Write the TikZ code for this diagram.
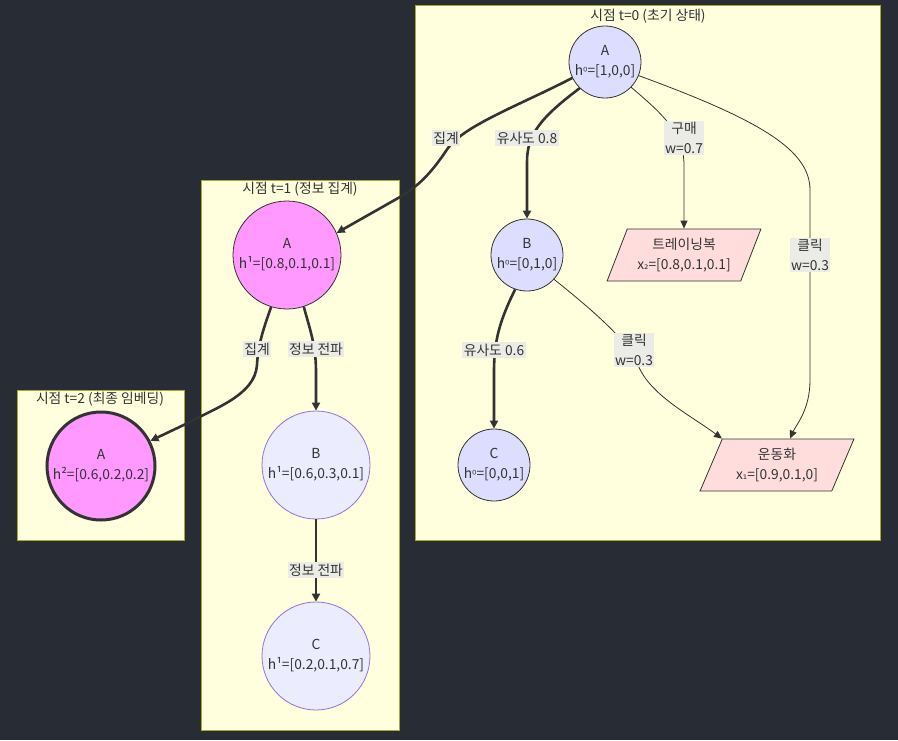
\documentclass[tikz,border=0pt]{standalone}
\usepackage{fontspec}
\setmainfont{Noto Sans CJK KR}
\newfontfamily\scriptf{DejaVu Sans}
\newcommand{\supz}{{\scriptf\fontsize{11}{15}\selectfont ⁰}}
\newcommand{\subone}{{\scriptf\fontsize{11}{15}\selectfont ₁}}
\newcommand{\subtwo}{{\scriptf\fontsize{11}{15}\selectfont ₂}}
\usetikzlibrary{shapes.geometric,arrows.meta}
\definecolor{bgc}{RGB}{40,44,52}
\definecolor{clfill}{HTML}{FFFFDE}
\definecolor{clline}{HTML}{AAAA33}
\definecolor{nzero}{HTML}{DDDDFF}
\definecolor{npink}{HTML}{FF99FF}
\definecolor{nlav}{HTML}{ECECFF}
\definecolor{nlavline}{HTML}{9370DB}
\definecolor{prod}{HTML}{FFDDDD}
\definecolor{ink}{HTML}{333333}
\definecolor{lblbg}{RGB}{236,236,230}
\tikzset{
  every node/.style={font=\fontsize{13.8}{20}\selectfont, text=ink},
  cluster/.style={draw=clline, fill=clfill, line width=0.8pt},
  ctitle/.style={inner sep=1pt},
  zero/.style={circle, draw=ink, fill=nzero, line width=0.8pt, minimum size=72pt, inner sep=0pt, align=center},
  pinkbig/.style={circle, draw=ink, fill=npink, line width=0.8pt, minimum size=108pt, inner sep=0pt, align=center},
  lavbig/.style={circle, draw=nlavline, fill=nlav, line width=0.8pt, minimum size=108pt, inner sep=0pt, align=center},
  finalnode/.style={circle, draw=ink, fill=npink, line width=3pt, minimum size=108pt, inner sep=0pt, align=center},
  product/.style={trapezium, trapezium left angle=64, trapezium right angle=116, trapezium stretches=true, draw=ink, fill=prod, line width=0.8pt, minimum height=52pt, minimum width=154pt, align=center, inner sep=0pt},
  thick edge/.style={draw=ink, line width=2.6pt, -{Triangle[length=8pt,width=8pt]}},
  thin edge/.style={draw=ink, line width=0.8pt, -{Triangle[length=8pt,width=7pt]}},
  elabel/.style={fill=lblbg, inner sep=1.5pt, align=center}
}
\begin{document}
\begin{tikzpicture}[x=1pt,y=-1pt]
\fill[bgc] (0,0) rectangle (898,740);
\useasboundingbox (0,0) rectangle (898,740);
% clusters
\draw[cluster] (415,5) rectangle (880,540);
\node[ctitle] (t0) at (648,16) {시점 t=0 (초기 상태)};
\draw[cluster] (201,180) rectangle (399,730);
\node[ctitle] (t1) at (300,189) {시점 t=1 (정보 집계)};
\draw[cluster] (17,390) rectangle (184,540);
\node[ctitle] (t2) at (100,399) {시점 t=2 (최종 임베딩)};
% nodes
\node[zero] (A0) at (605,62) {A\\h\supz=[1,0,0]};
\node[zero] (B0) at (527,255) {B\\h\supz=[0,1,0]};
\node[zero] (C0) at (494,465) {C\\h\supz=[0,0,1]};
\node[product] (tw) at (684,255) {트레이닝복\\x\subtwo=[0.8,0.1,0.1]};
\node[product] (sn) at (777,465) {운동화\\x\subone=[0.9,0.1,0]};
\node[pinkbig] (A1) at (287,255) {A\\h¹=[0.8,0.1,0.1]};
\node[lavbig] (B1) at (316,465) {B\\h¹=[0.6,0.3,0.1]};
\node[lavbig] (C1) at (316,656) {C\\h¹=[0.2,0.1,0.7]};
\node[finalnode] (A2) at (101,466) {A\\h²=[0.6,0.2,0.2]};
% edges
\draw[thick edge] (A0.206) .. controls (520,105) and (465,125) .. (448,148) .. controls (432,172) and (420,185) .. (400,197) -- (A1.24);
\node[elabel] (l1) at (446,138) {집계};
\draw[thick edge] (A0.226) .. controls (540,118) and (527,135) .. (527,162) -- (B0.north);
\node[elabel] (l2) at (527,138) {유사도 0.8};
\draw[thin edge] (A0.316) .. controls (660,112) and (684,132) .. (684,165) -- (tw.north);
\node[elabel] (l3) at (684,138) {구매\\w=0.7};
\draw[thin edge] (A0.338) .. controls (760,120) and (810,150) .. (810,190) -- (810,380) .. controls (810,410) and (796,425) .. ([xshift=13pt]sn.north);
\node[elabel] (l4) at (810,255) {클릭\\w=0.3};
\draw[thick edge] (B0.251) .. controls (500,320) and (494,340) .. (494,372) -- (C0.north);
\node[elabel] (l5) at (494,350) {유사도 0.6};
\draw[thin edge] (B0.318) .. controls (605,320) and (630,345) .. (638,365) .. controls (650,395) and (690,415) .. (sn.top left corner);
\node[elabel] (l6) at (634,350) {클릭\\w=0.3};
\draw[thick edge] (A1.253) .. controls (263,330) and (258,345) .. (257,365) .. controls (255,395) and (215,408) .. (190,422) -- (A2.27);
\node[elabel] (l7) at (257,349) {집계};
\draw[thick edge] (A1.288) .. controls (310,330) and (316,345) .. (316,372) -- (B1.north);
\node[elabel] (l8) at (316,349) {정보 전파};
\draw[thick edge] (B1.south) -- (C1.north);
\node[elabel] (l9) at (316,570) {정보 전파};
\end{tikzpicture}
\end{document}
